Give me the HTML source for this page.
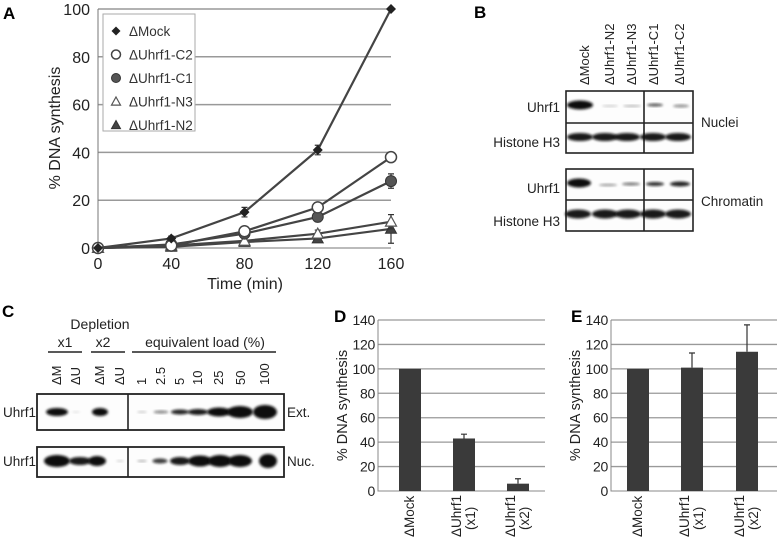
<!DOCTYPE html>
<html><head><meta charset="utf-8"><style>
body{margin:0;background:#fff}
svg{display:block;font-family:"Liberation Sans",sans-serif}
</style></head><body>
<svg id="fig" width="777" height="542" viewBox="0 0 777 542" xmlns="http://www.w3.org/2000/svg">
<defs>
<filter id="bl" x="-20%" y="-50%" width="140%" height="200%"><feGaussianBlur stdDeviation="1.2"/></filter>
</defs>
<g id="panelA"></g>
<g id="panelB"></g>
<g id="panelC"></g>
<g id="panelD"></g>
<g id="panelE"></g>
</svg>
<script>
// ---- Panel A data ----
const timePoints = [0, 40, 80, 120, 160];
const seriesNames = ["ΔMock", "ΔUhrf1-C2", "ΔUhrf1-C1", "ΔUhrf1-N3", "ΔUhrf1-N2"];
const mockValues = [0, 4, 15, 41, 100];
const c2Values = [0, 1, 7, 17, 38];
const c1Values = [0, 1.5, 6, 13, 28];
const n3Values = [0, 1, 3, 6, 11];
const n2Values = [0, 0.5, 2.5, 4, 8];
const mockErr = [0, 1, 2, 2, 0];
const c2Err = [0, 1, 1, 2, 2];
const c1Err = [0, 1, 1, 2, 3];
const n3Err = [0, 0.5, 1, 1.5, 3];
const n2Err = [0, 0.5, 1, 1.5, 6];
const aYTicks = [0, 20, 40, 60, 80, 100];
const aXTicks = [0, 40, 80, 120, 160];
// ---- Panel D data ----
const dCategories = [["ΔMock"], ["ΔUhrf1", "(x1)"], ["ΔUhrf1", "(x2)"]];
const dValues = [100, 43, 6];
const dErrors = [0, 3.5, 4];
// ---- Panel E data ----
const eCategories = [["ΔMock"], ["ΔUhrf1", "(x1)"], ["ΔUhrf1", "(x2)"]];
const eValues = [100, 101, 114];
const eErrors = [0, 12, 22];
const barYTicks = [0, 20, 40, 60, 80, 100, 120, 140];

const NS = "http://www.w3.org/2000/svg";
function mk(parent, tag, attrs, text) {
  const e = document.createElementNS(NS, tag);
  for (const k in attrs) e.setAttribute(k, attrs[k]);
  if (text !== undefined) e.textContent = text;
  parent.appendChild(e);
  return e;
}

// ================= Panel A =================
(function () {
  const g = document.getElementById("panelA");
  const x = v => 98 + (v / 160) * 293;
  const y = v => 248 - (v / 100) * 239;
  let t = mk(g, "text", { x: 3, y: 19, "font-size": 17, "font-weight": "bold" }, "A");
  
  
  aYTicks.forEach(v => {
    if (v > 0) {
      const l = mk(g, "line", { x1: 98, x2: 391, y1: y(v), y2: y(v), stroke: "#999", "stroke-width": 1.5 });
      
      
    }
    const tl = mk(g, "text", { x: 90, y: y(v) + 6, "font-size": 16, "text-anchor": "end", fill: "#222" }, v);
    
    
  });
  const ax = mk(g, "line", { x1: 98, x2: 98, y1: 9, y2: 248, stroke: "#777" });
  
  
  const xa = mk(g, "line", { x1: 92, x2: 391, y1: 248, y2: 248, stroke: "#777" });
  
  
  aXTicks.forEach(v => {
    const tl = mk(g, "text", { x: x(v), y: 269, "font-size": 16, "text-anchor": "middle", fill: "#222" }, v);
    
    
  });
  let xt = mk(g, "text", { x: 245, y: 289, "font-size": 16, "text-anchor": "middle", fill: "#222" }, "Time (min)");
  
  
  let yt = mk(g, "text", { x: 0, y: 0, "font-size": 16, "text-anchor": "middle", fill: "#222", transform: "translate(60,128) rotate(-90)" }, "% DNA synthesis");
  
  

  const all = [mockValues, c2Values, c1Values, n3Values, n2Values];
  const errs = [mockErr, c2Err, c1Err, n3Err, n2Err];
  const shapes = ["diamond", "circle-open", "circle-fill", "tri-open", "tri-fill"];
  function marker(parent, shape, cx, cy, s) {
    let e;
    if (shape === "diamond") e = mk(parent, "path", { d: `M${cx} ${cy - s}L${cx + s} ${cy}L${cx} ${cy + s}L${cx - s} ${cy}Z`, fill: "#222" });
    else if (shape === "circle-open") e = mk(parent, "circle", { cx, cy, r: s, fill: "#fff", stroke: "#444", "stroke-width": 1.5 });
    else if (shape === "circle-fill") e = mk(parent, "circle", { cx, cy, r: s, fill: "#555", stroke: "#333" });
    else if (shape === "tri-open") e = mk(parent, "path", { d: `M${cx} ${cy - s}L${cx + s} ${cy + s * 0.8}L${cx - s} ${cy + s * 0.8}Z`, fill: "#fff", stroke: "#555", "stroke-width": 1.2 });
    else e = mk(parent, "path", { d: `M${cx} ${cy - s}L${cx + s} ${cy + s * 0.8}L${cx - s} ${cy + s * 0.8}Z`, fill: "#444", stroke: "#333" });
    return e;
  }
  for (let i = all.length - 1; i >= 0; i--) {
    const vals = all[i];
    const sg = mk(g, "g", {});
    
    
    const pts = vals.map((v, j) => x(timePoints[j]) + "," + y(v)).join(" ");
    mk(sg, "polyline", { points: pts, fill: "none", stroke: "#444", "stroke-width": 2.2 });
    vals.forEach((v, j) => {
      const e = errs[i][j];
      if (e > 0) {
        const eb = mk(sg, "path", { d: `M${x(timePoints[j])} ${y(v - e)}V${y(v + e)}M${x(timePoints[j]) - 3} ${y(v - e)}h6M${x(timePoints[j]) - 3} ${y(v + e)}h6`, stroke: "#333", "stroke-width": 1.2, fill: "none" });
        
        
      }
      const m = marker(sg, shapes[i], x(timePoints[j]), y(v), i === 0 ? 5 : 5.5);
      
      
    });
  }
  const lg = mk(g, "g", {});
  
  
  mk(lg, "rect", { x: 103, y: 14, width: 92, height: 117, fill: "#fff", stroke: "#aaa" });
  seriesNames.forEach((n, i) => {
    const ly = 31 + i * 23.5;
    const le = mk(lg, "g", {});
    
    
    marker(le, shapes[i], 116, ly, 4.5);
    mk(le, "text", { x: 129, y: ly + 5, "font-size": 13.5, fill: "#333" }, n);
  });
})();

// ================= Panel B =================
(function () {
  const g = document.getElementById("panelB");
  let t = mk(g, "text", { x: 474, y: 18, "font-size": 17, "font-weight": "bold" }, "B");
  
  
  const lanes = ["ΔMock", "ΔUhrf1-N2", "ΔUhrf1-N3", "ΔUhrf1-C1", "ΔUhrf1-C2"];
  const lx = [585, 610, 632, 654, 680];
  lanes.forEach((n, i) => {
    const l = mk(g, "text", { x: 0, y: 0, "font-size": 13, fill: "#222", transform: `translate(${lx[i] + 4},85) rotate(-90)` }, n);
    
    
  });
  function box(y0, y1, ymid) {
    const b = mk(g, "g", {});
    
    
    mk(b, "rect", { x: 566, y: y0, width: 127, height: y1 - y0, fill: "#fdfdfd", stroke: "#222", "stroke-width": 1.6 });
    mk(b, "line", { x1: 566, x2: 693, y1: ymid, y2: ymid, stroke: "#222", "stroke-width": 1.6 });
    mk(b, "line", { x1: 644, x2: 644, y1: y0, y2: y1, stroke: "#222", "stroke-width": 1.6 });
    return b;
  }
  function band(b, cx, cy, w, h, op) {
    mk(b, "ellipse", { cx, cy, rx: w / 2, ry: h / 2, fill: "#111", opacity: op, filter: "url(#bl)" });
  }
  const n = box(91, 153, 123);
  band(n, 580, 105, 26, 9, 1); band(n, 610, 106, 16, 2, 0.2); band(n, 632, 106, 18, 2, 0.3);
  band(n, 655, 105, 16, 3, 0.7); band(n, 681, 106, 16, 3, 0.45);
  [580, 605, 627, 653, 678].forEach(cx => band(n, cx, 137, 26, 8, 0.95));
  const c = box(169, 231, 200);
  band(c, 579, 183, 24, 9, 1); band(c, 608, 185, 18, 2.5, 0.4); band(c, 631, 184, 18, 3, 0.55);
  band(c, 655, 184, 18, 4, 0.85); band(c, 680, 184, 20, 5, 0.9);
  [578, 605, 628, 653, 678].forEach(cx => band(c, cx, 214, 26, 9, 0.95));
  [["Uhrf1", 107], ["Histone H3", 142], ["Uhrf1", 188], ["Histone H3", 221]].forEach(([s, yy]) => {
    const l = mk(g, "text", { x: 560, y: yy + 5, "font-size": 13.5, "text-anchor": "end", fill: "#222" }, s);
    
    
  });
  [["Nuclei", 127], ["Chromatin", 206]].forEach(([s, yy]) => {
    const l = mk(g, "text", { x: 701, y: yy, "font-size": 13.5, fill: "#222" }, s);
    
    
  });
})();

// ================= Panel C =================
(function () {
  const g = document.getElementById("panelC");
  let t = mk(g, "text", { x: 2, y: 317, "font-size": 17, "font-weight": "bold" }, "C");
  
  
  const hdr = [["Depletion", 100, 329], ["x1", 65, 347], ["x2", 103, 347], ["equivalent load (%)", 205, 347]];
  hdr.forEach(([s, xx, yy]) => {
    const l = mk(g, "text", { x: xx, y: yy, "font-size": 14, "text-anchor": "middle", fill: "#222" }, s);
    
    
  });
  [[48, 82], [91, 125], [132, 276]].forEach(([a, b]) => {
    const l = mk(g, "line", { x1: a, x2: b, y1: 352, y2: 352, stroke: "#222", "stroke-width": 1.5 });
    
    
  });
  const lanes = ["ΔM", "ΔU", "ΔM", "ΔU", "1", "2.5", "5", "10", "25", "50", "100"];
  const lx = [57, 76, 100, 120, 142, 161, 180, 198, 219, 241, 265];
  lanes.forEach((s, i) => {
    const l = mk(g, "text", { x: 0, y: 0, "font-size": 13, fill: "#222", transform: `translate(${lx[i] + 4},385) rotate(-90)` }, s);
    
    
  });
  function box(y0, y1) {
    const b = mk(g, "g", {});
    
    
    mk(b, "rect", { x: 37, y: y0, width: 247, height: y1 - y0, fill: "#fdfdfd", stroke: "#222", "stroke-width": 1.8 });
    mk(b, "line", { x1: 128, x2: 128, y1: y0, y2: y1, stroke: "#222", "stroke-width": 1.6 });
    return b;
  }
  function band(b, cx, cy, w, h, op) {
    mk(b, "ellipse", { cx, cy, rx: w / 2, ry: h / 2, fill: "#111", opacity: op, filter: "url(#bl)" });
  }
  const e = box(394, 430);
  const eb = [[57, 22, 8, 1], [76, 8, 2, 0.1], [100, 16, 8, 1], [142, 10, 2, 0.2], [161, 15, 3, 0.5], [180, 18, 5, 0.9], [198, 20, 6, 0.95], [219, 24, 9, 1], [240, 26, 12, 1], [265, 24, 14, 1]];
  eb.forEach(a => band(e, a[0], 412, a[1], a[2], a[3]));
  const n = box(447, 477);
  const nb = [[57, 26, 12, 1], [80, 22, 8, 0.95], [97, 18, 10, 1], [120, 8, 2, 0.15], [142, 10, 2, 0.3], [160, 15, 5, 0.8], [180, 20, 8, 0.95], [200, 24, 11, 1], [220, 24, 12, 1], [240, 24, 12, 1], [268, 18, 14, 1]];
  nb.forEach(a => band(n, a[0], 461, a[1], a[2], a[3]));
  [["Uhrf1", 417], ["Uhrf1", 466]].forEach(([s, yy]) => {
    const l = mk(g, "text", { x: 36, y: yy, "font-size": 13.5, "text-anchor": "end", fill: "#222" }, s);
    
    
  });
  [["Ext.", 417], ["Nuc.", 466]].forEach(([s, yy]) => {
    const l = mk(g, "text", { x: 287, y: yy, "font-size": 13.5, fill: "#222" }, s);
    
    
  });
})();

// ================= Panels D & E =================
function barChart(gid, letter, letterX, axisX, gridEnd, centers, cats, vals, errs) {
  const g = document.getElementById(gid);
  const y = v => 491 - (v / 140) * 171;
  let t = mk(g, "text", { x: letterX, y: 322, "font-size": 17, "font-weight": "bold" }, letter);
  
  
  barYTicks.forEach(v => {
    if (v > 0) {
      const l = mk(g, "line", { x1: axisX, x2: gridEnd, y1: y(v), y2: y(v), stroke: "#999", "stroke-width": 1.3 });
      
      
    }
    const tl = mk(g, "text", { x: axisX - 3, y: y(v) + 5, "font-size": 14, "text-anchor": "end", fill: "#222", "letter-spacing": "-0.3" }, v);
    
    
  });
  const ax = mk(g, "path", { d: `M${axisX} ${y(140)}V491H${gridEnd}`, stroke: "#888", fill: "none" });
  
  
  let yt = mk(g, "text", { x: 0, y: 0, "font-size": 14.5, "text-anchor": "middle", fill: "#222", transform: `translate(${axisX - 31},${y(70)}) rotate(-90)` }, "% DNA synthesis");
  
  
  vals.forEach((v, i) => {
    const cx = centers[i];
    const b = mk(g, "rect", { x: cx - 11, y: y(v), width: 22, height: 491 - y(v), fill: "#3a3a3a" });
    
    
    if (errs[i] > 0) {
      const e = mk(g, "path", { d: `M${cx} ${y(v)}V${y(v + errs[i])}M${cx - 3} ${y(v + errs[i])}h6`, stroke: "#333", "stroke-width": 1.2 });
      
      
    }
    cats[i].forEach((s, k) => {
      const tl = mk(g, "text", { x: 0, y: 0, "font-size": 13.5, fill: "#222", transform: `translate(${cx + 4 + k * 14 - (cats[i].length - 1) * 7},${k === 0 ? 537 : 530}) rotate(-90)` }, s);
      
      
    });
  });
}
barChart("panelD", "D", 334, 378, 545, [410, 464, 518], dCategories, dValues, dErrors);
barChart("panelE", "E", 571, 611, 777, [638, 692, 747], eCategories, eValues, eErrors);
</script>
</body></html>
